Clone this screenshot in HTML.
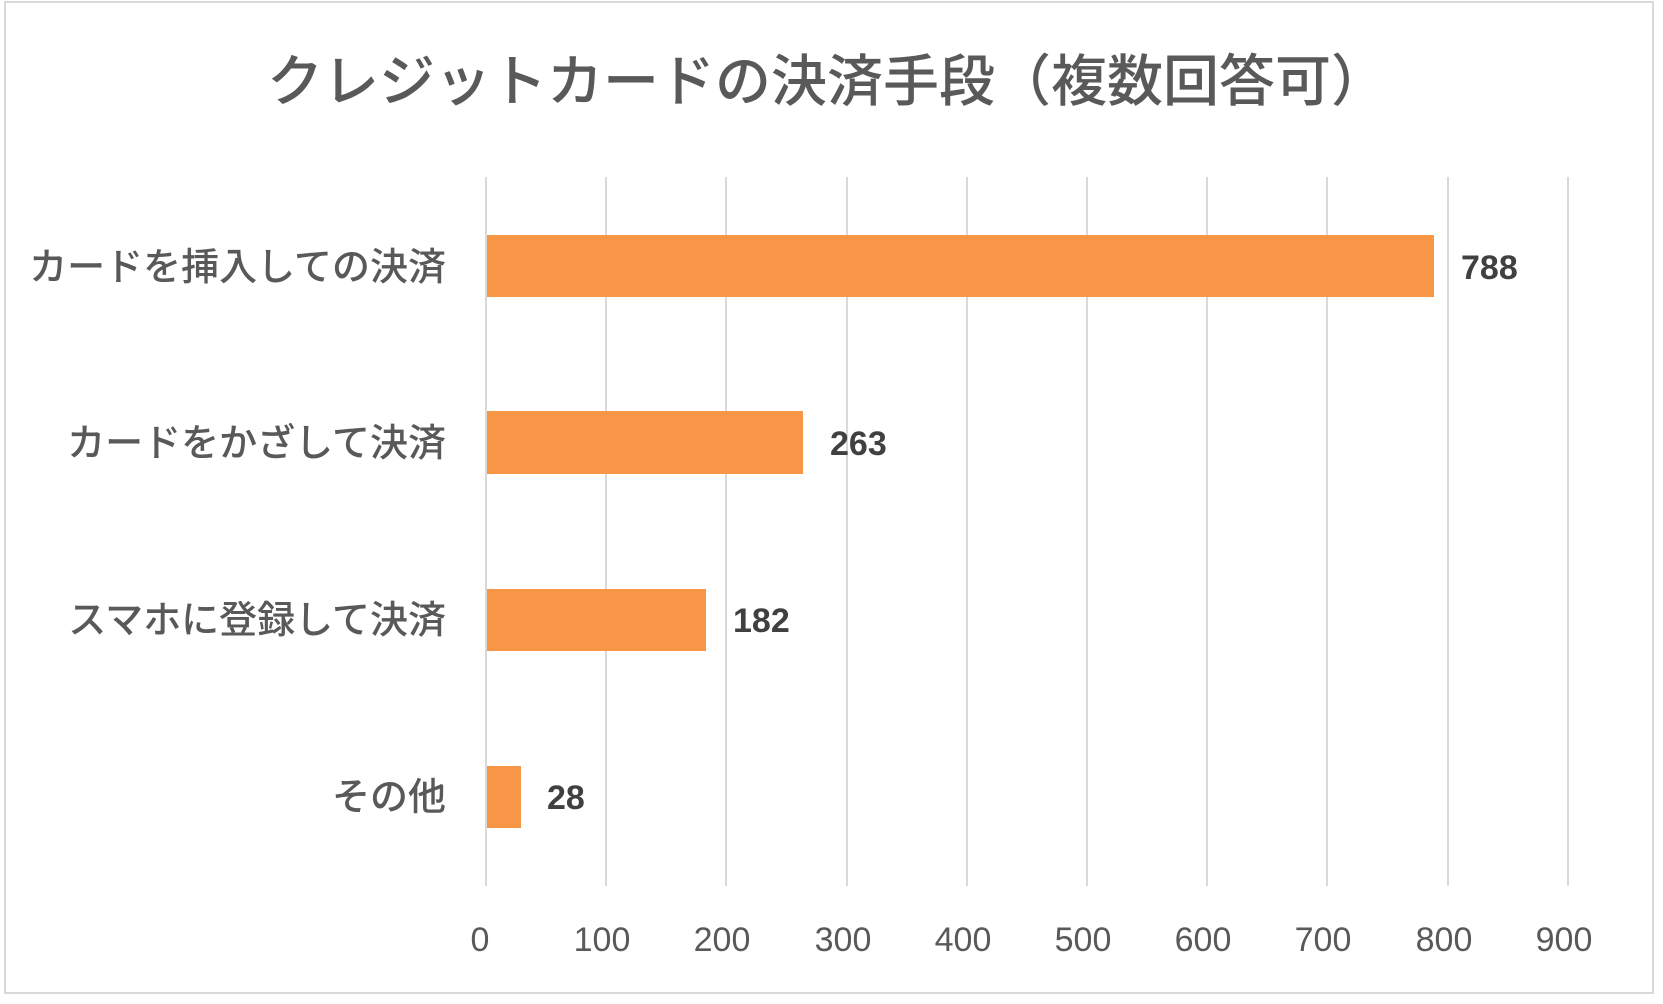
<!DOCTYPE html>
<html><head><meta charset="utf-8"><style>
html,body{margin:0;padding:0;background:#fff;}
svg text{font-family:"Liberation Sans","Noto Sans CJK JP",sans-serif;fill:#595959;}
</style></head><body>
<svg width="1663" height="999" viewBox="0 0 1663 999" xmlns="http://www.w3.org/2000/svg">
<rect x="5" y="2" width="1648" height="991" fill="#fff" stroke="#d9d9d9" stroke-width="2"/>
<text x="827" y="101" text-anchor="middle" font-size="56" style="font-family:'Noto Sans CJK JP',sans-serif;font-weight:500">クレジットカードの決済手段（複数回答可）</text>
<g stroke="#d9d9d9" stroke-width="2">
<line x1="486" y1="177" x2="486" y2="886"/>
<line x1="606" y1="177" x2="606" y2="886"/>
<line x1="726" y1="177" x2="726" y2="886"/>
<line x1="847" y1="177" x2="847" y2="886"/>
<line x1="967" y1="177" x2="967" y2="886"/>
<line x1="1087" y1="177" x2="1087" y2="886"/>
<line x1="1207" y1="177" x2="1207" y2="886"/>
<line x1="1327" y1="177" x2="1327" y2="886"/>
<line x1="1448" y1="177" x2="1448" y2="886"/>
<line x1="1568" y1="177" x2="1568" y2="886"/>
</g>
<g fill="#F79646">
<rect x="487" y="235" width="947" height="62"/>
<rect x="487" y="411" width="316" height="63"/>
<rect x="487" y="589" width="219" height="62"/>
<rect x="487" y="766" width="34" height="62"/>
</g>
<g font-size="38" text-anchor="end" style="font-family:'Noto Sans CJK JP',sans-serif;font-weight:500">
<text x="446" y="280">カードを挿入しての決済</text>
<text x="446" y="456">カードをかざして決済</text>
<text x="446" y="633">スマホに登録して決済</text>
<text x="446" y="810">その他</text>
</g>
<g font-size="34" font-weight="bold">
<text x="1461" y="279" style="fill:#404040">788</text>
<text x="830" y="455" style="fill:#404040">263</text>
<text x="733" y="632" style="fill:#404040">182</text>
<text x="547" y="809" style="fill:#404040">28</text>
</g>
<g font-size="34" text-anchor="middle">
<text x="480" y="951">0</text>
<text x="602" y="951">100</text>
<text x="722" y="951">200</text>
<text x="843" y="951">300</text>
<text x="963" y="951">400</text>
<text x="1083" y="951">500</text>
<text x="1203" y="951">600</text>
<text x="1323" y="951">700</text>
<text x="1444" y="951">800</text>
<text x="1564" y="951">900</text>
</g>
</svg>
</body></html>
